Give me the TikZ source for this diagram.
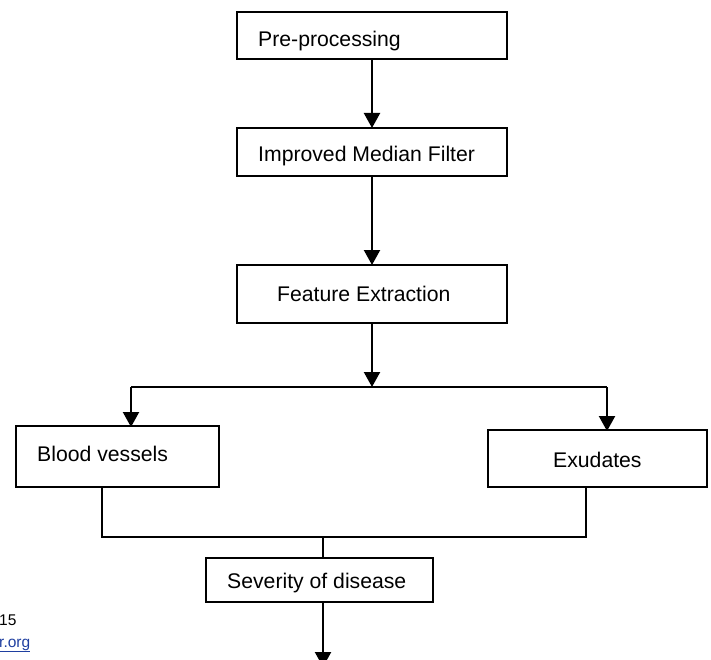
\documentclass[tikz,border=0pt]{standalone}
\usepackage{fontspec}
\setmainfont{Liberation Sans}
\usetikzlibrary{arrows.meta}
\definecolor{linkblue}{HTML}{1F3FA0}
\begin{document}
\begin{tikzpicture}[x=1pt,y=-1pt,
  box/.style={draw=black,line width=1.7pt,fill=none},
  lbl/.style={anchor=base west,inner sep=0pt,font=\fontsize{21.2}{25}\selectfont},
  arr/.style={line width=2.2pt,-{Triangle[width=16pt,length=15pt]}},
  conn/.style={line width=1.2pt},
  small/.style={anchor=base west,inner sep=0pt,font=\fontsize{15.5}{18}\selectfont}]
\useasboundingbox (0,0) rectangle (711,660);
% boxes
\draw[box] (237,12) rectangle (507,59);
\draw[box] (237,128) rectangle (507,176);
\draw[box] (237,265) rectangle (507,323);
\draw[box] (16,426) rectangle (219,487);
\draw[box] (488,430) rectangle (707,487);
\draw[box] (206,558) rectangle (433,602);
% coordinates
\coordinate (pre) at (372,59);
\coordinate (imtop) at (372,128);
\coordinate (imbot) at (372,176);
\coordinate (fetop) at (372,265);
\coordinate (febot) at (372,323);
\coordinate (split) at (372,387);
\coordinate (splitL) at (131,387);
\coordinate (splitR) at (607,387);
\coordinate (bvtop) at (131,427);
\coordinate (extop) at (607,431);
\coordinate (bvbot) at (102,487);
\coordinate (exbot) at (586,487);
\coordinate (joinL) at (102,537);
\coordinate (joinR) at (586,537);
\coordinate (joinM) at (323,537);
\coordinate (svtop) at (323,558);
\coordinate (svbot) at (323,602);
\coordinate (out) at (323,667);
% labels
\node[lbl] (t1) at (258,47) {Pre-processing};
\node[lbl] (t2) at (258,162) {Improved Median Filter};
\node[lbl] (t3) at (277,301) {Feature Extraction};
\node[lbl] (t4) at (37,461) {Blood vessels};
\node[lbl] (t5) at (553,467) {Exudates};
\node[lbl] (t6) at (227,588) {Severity of disease};
\node[small] (n15) at (-1,625) {15};
\node[small,text=linkblue] (url) at (-1,647) {\underline{r.org}};
% connectors
\draw[arr] (pre) -- (imtop);
\draw[arr] (imbot) -- (fetop);
\draw[arr] (febot) -- (split);
\draw[line width=2.2pt] (splitL) -- (splitR);
\draw[arr] (splitL) -- (bvtop);
\draw[arr] (splitR) -- (extop);
\draw[conn] (bvbot) -- (joinL) -- (joinR) -- (exbot);
\draw[conn] (joinM) -- (svtop);
\draw[arr] (svbot) -- (out);
\end{tikzpicture}
\end{document}
